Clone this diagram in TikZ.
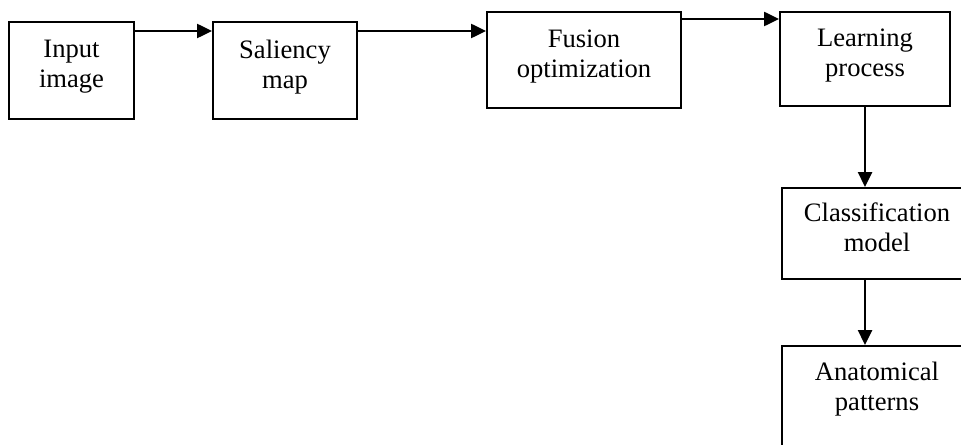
\documentclass[tikz,border=0pt]{standalone}
\usepackage{fontspec}
\setmainfont{Liberation Serif}
\usetikzlibrary{arrows.meta}
\tikzset{
  blockbox/.style={draw, line width=1pt, align=center, inner sep=0pt,
    text depth=6.4pt, font=\fontsize{13.3}{15}\selectfont},
  cutbox/.style={draw, line width=1pt, inner sep=0pt, anchor=north west,
    minimum width=130pt, font=\fontsize{13.3}{15}\selectfont},
  flowarrow/.style={line width=1.25pt, -{Triangle[length=7.5pt,width=7pt]}}
}
% text of a box that runs off the right edge
\newcommand{\cuttext}[3][3.5pt]{\raisebox{0pt}[\height][\dimexpr\depth+#1\relax]{%
  \begin{tabular}{@{}c@{}}#2\\#3\end{tabular}}\hspace*{35pt}}
\begin{document}
\begin{tikzpicture}[x=0.5pt,y=-0.5pt]
  \useasboundingbox (0,0) rectangle (961,444);
  % top row
  \node[blockbox, minimum width=62.5pt, minimum height=48.5pt] (input) at (71.5,70.5) {Input\\image};
  \node[blockbox, minimum width=72pt, minimum height=48.5pt] (saliency) at (285,70.5) {Saliency\\map};
  \node[blockbox, minimum width=97pt, minimum height=48pt] (fusion) at (584,60) {Fusion\\optimization};
  \node[blockbox, minimum width=85pt, minimum height=47pt] (learning) at (865,59) {Learning\\process};
  % right column
  \node[cutbox, minimum height=45.5pt] (classif) at (781,187) {\cuttext{Classification}{model}};
  \node[cutbox, minimum height=50pt] (anatom) at (781,345) {\cuttext[7pt]{Anatomical}{patterns}};
  % arrows
  \draw[flowarrow] ([yshift=-5pt]input.north east) -- ([yshift=-5pt]saliency.north west);
  \draw[flowarrow] ([yshift=-5pt]saliency.north east) -- ([yshift=-5pt]saliency.north east -| fusion.west);
  \draw[flowarrow] ([yshift=-4pt]fusion.north east) -- ([yshift=-4pt]learning.north west);
  \draw[flowarrow] (learning.south) -- (learning.south |- classif.north);
  \draw[flowarrow] (learning.south |- classif.south) -- (learning.south |- anatom.north);
\end{tikzpicture}
\end{document}
